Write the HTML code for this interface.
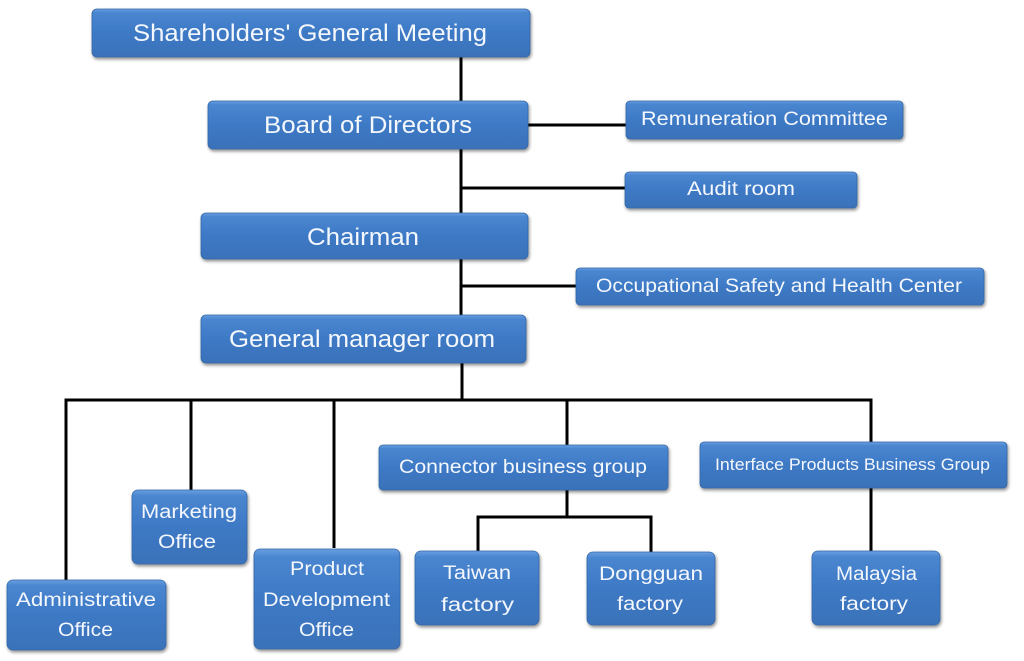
<!DOCTYPE html>
<html><head><meta charset="utf-8"><style>
html,body{margin:0;padding:0;background:#fff;}
svg{display:block;}
text{font-family:"Liberation Sans",sans-serif;fill:#f4f7fc;}
</style></head><body>
<svg width="1024" height="661" viewBox="0 0 1024 661" xmlns="http://www.w3.org/2000/svg">
<defs>
<linearGradient id="g" x1="0" y1="0" x2="0" y2="1">
<stop offset="0" stop-color="#6a9fe0"/>
<stop offset="0.08" stop-color="#4a86d0"/>
<stop offset="0.5" stop-color="#3d79c5"/>
<stop offset="1" stop-color="#3a72b9"/>
</linearGradient>
<filter id="s" x="-10%" y="-10%" width="120%" height="130%">
<feGaussianBlur in="SourceAlpha" stdDeviation="1.5"/>
<feOffset dx="1" dy="2" result="b"/>
<feComponentTransfer><feFuncA type="linear" slope="0.45"/></feComponentTransfer>
<feMerge><feMergeNode/><feMergeNode in="SourceGraphic"/></feMerge>
</filter>
</defs>
<g stroke="#000" stroke-width="3" fill="none">
<line x1="461" y1="57" x2="461" y2="315"/>
<line x1="528" y1="125" x2="626" y2="125"/>
<line x1="461" y1="188" x2="625" y2="188"/>
<line x1="461" y1="286" x2="576" y2="286"/>
<line x1="462" y1="363" x2="462" y2="400"/>
<line x1="64.5" y1="400" x2="872.5" y2="400"/>
<line x1="66" y1="400" x2="66" y2="580"/>
<line x1="191" y1="400" x2="191" y2="490"/>
<line x1="334" y1="400" x2="334" y2="548"/>
<line x1="567" y1="400" x2="567" y2="445"/>
<line x1="871" y1="400" x2="871" y2="442"/>
<line x1="567" y1="490" x2="567" y2="517"/>
<polyline points="478,551 478,517 651,517 651,552"/>
<line x1="871" y1="488" x2="871" y2="551"/>
</g>
<g fill="url(#g)" filter="url(#s)" stroke="#3468a8" stroke-width="0.8">
<rect x="92" y="9" width="438" height="48" rx="5"/>
<rect x="208" y="101" width="320" height="48" rx="5"/>
<rect x="626" y="101" width="277" height="38" rx="4"/>
<rect x="625" y="172" width="232" height="36" rx="4"/>
<rect x="201" y="213" width="327" height="46" rx="5"/>
<rect x="576" y="268" width="408" height="37" rx="4"/>
<rect x="201" y="315" width="325" height="48" rx="5"/>
<rect x="379" y="445" width="289" height="45" rx="4"/>
<rect x="700" y="442" width="307" height="46" rx="4"/>
<rect x="132" y="490" width="115" height="74" rx="6"/>
<rect x="7" y="580" width="159" height="70" rx="6"/>
<rect x="254" y="549" width="146" height="100" rx="6"/>
<rect x="415" y="551" width="124" height="74" rx="6"/>
<rect x="587" y="552" width="128" height="73" rx="6"/>
<rect x="812" y="551" width="128" height="74" rx="6"/>
</g>
<g font-size="24">
<text x="133" y="41" textLength="354" lengthAdjust="spacingAndGlyphs">Shareholders' General Meeting</text>
<text x="264" y="133" textLength="208" lengthAdjust="spacingAndGlyphs">Board of Directors</text>
<text x="307" y="245" textLength="112" lengthAdjust="spacingAndGlyphs">Chairman</text>
<text x="229" y="347" textLength="266" lengthAdjust="spacingAndGlyphs">General manager room</text>
</g>
<g font-size="19">
<text x="641" y="125" textLength="247" lengthAdjust="spacingAndGlyphs">Remuneration Committee</text>
<text x="687" y="195" textLength="108" lengthAdjust="spacingAndGlyphs">Audit room</text>
<text x="596" y="292" textLength="366" lengthAdjust="spacingAndGlyphs">Occupational Safety and Health Center</text>
<text x="399" y="473" textLength="248" lengthAdjust="spacingAndGlyphs">Connector business group</text>
<text x="715" y="470" font-size="17" textLength="275" lengthAdjust="spacingAndGlyphs">Interface Products Business Group</text>
<text x="141" y="518" textLength="96" lengthAdjust="spacingAndGlyphs">Marketing</text>
<text x="158" y="548" textLength="58" lengthAdjust="spacingAndGlyphs">Office</text>
<text x="16" y="606" textLength="140" lengthAdjust="spacingAndGlyphs">Administrative</text>
<text x="58" y="636" textLength="55" lengthAdjust="spacingAndGlyphs">Office</text>
<text x="290" y="575" textLength="74" lengthAdjust="spacingAndGlyphs">Product</text>
<text x="263" y="606" textLength="127" lengthAdjust="spacingAndGlyphs">Development</text>
<text x="299" y="636" textLength="55" lengthAdjust="spacingAndGlyphs">Office</text>
<text x="443" y="579" textLength="68" lengthAdjust="spacingAndGlyphs">Taiwan</text>
<text x="441" y="611" textLength="73" lengthAdjust="spacingAndGlyphs">factory</text>
<text x="599" y="580" textLength="104" lengthAdjust="spacingAndGlyphs">Dongguan</text>
<text x="617" y="610" textLength="66" lengthAdjust="spacingAndGlyphs">factory</text>
<text x="836" y="580" textLength="81" lengthAdjust="spacingAndGlyphs">Malaysia</text>
<text x="840" y="610" textLength="68" lengthAdjust="spacingAndGlyphs">factory</text>
</g>
</svg>
</body></html>
